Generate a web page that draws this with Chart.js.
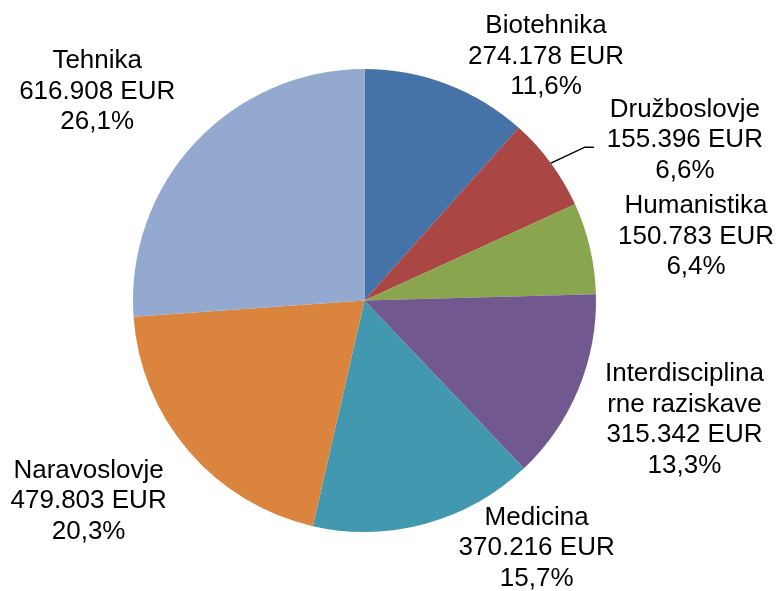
<!DOCTYPE html>
<html>
<head>
<meta charset="utf-8">
<script src="https://cdn.jsdelivr.net/npm/chart.js@4/dist/chart.umd.min.js"></script>
<style>
  html, body { margin: 0; padding: 0; background: #ffffff; }
  #wrap { width: 779px; height: 591px; position: relative; }
</style>
</head>
<body>
<div id="wrap"><canvas id="c" width="779" height="591"></canvas></div>
<script>
// ---- data ----
const categories = ["Biotehnika", "Družboslovje", "Humanistika", "Interdisciplinarne raziskave", "Medicina", "Naravoslovje", "Tehnika"];
const amountsEUR = [274178, 155396, 150783, 315342, 370216, 479803, 616908];
const currency = "EUR";

// ---- style ----
const sliceColors = ["#4572A7", "#AA4643", "#89A54E", "#71588F", "#4198AF", "#DB843D", "#93A9CF"];
// label centre offsets from the slice's outer mid-point (px)
const labelOffsets = [[99, -30], [134, -25], [106, -14], [106, 29], [111, 22], [-100, 48], [-98, -53]];
// leader line (relative to slice outer mid-point), only for Družboslovje
const leaders = { 1: [[0, 0], [34, -16], [43, -16]] };
const FONT_SIZE = 26;
const LINE_H = 30.5;
const FONT = FONT_SIZE + "px 'Liberation Sans', Arial, sans-serif";
const WRAP_W = 165;

function fmtThousands(v) {
  return String(v).replace(/\B(?=(\d{3})+(?!\d))/g, ".");
}
function wrapText(ctx, text, maxW) {
  const lines = [];
  let cur = "";
  for (const ch of text) {
    const test = cur + ch;
    if (ctx.measureText(test).width > maxW && cur.length) {
      lines.push(cur.trim());
      cur = ch;
    } else cur = test;
  }
  if (cur.trim().length) lines.push(cur.trim());
  return lines;
}

const total = amountsEUR.reduce((a, b) => a + b, 0);

const labelPlugin = {
  id: "sliceLabels",
  afterDatasetsDraw(chart) {
    const ctx = chart.ctx;
    const meta = chart.getDatasetMeta(0);
    ctx.save();
    ctx.font = FONT;
    ctx.fillStyle = "#000000";
    ctx.textAlign = "center";
    ctx.textBaseline = "alphabetic";
    meta.data.forEach((arc, i) => {
      const p = arc.getProps(["x", "y", "startAngle", "endAngle", "outerRadius"], true);
      const mid = (p.startAngle + p.endAngle) / 2;
      const ax = p.x + Math.cos(mid) * p.outerRadius;
      const ay = p.y + Math.sin(mid) * p.outerRadius;
      if (leaders[i]) {
        ctx.beginPath();
        ctx.strokeStyle = "#000000";
        ctx.lineWidth = 1.5;
        leaders[i].forEach((pt, k) => {
          if (k === 0) ctx.moveTo(ax + pt[0], ay + pt[1]);
          else ctx.lineTo(ax + pt[0], ay + pt[1]);
        });
        ctx.stroke();
      }
      const pct = (amountsEUR[i] / total * 100).toFixed(1).replace(".", ",") + "%";
      const lines = wrapText(ctx, categories[i], WRAP_W)
        .concat([fmtThousands(amountsEUR[i]) + " " + currency, pct]);
      const cx = ax + labelOffsets[i][0];
      const cy = ay + labelOffsets[i][1];
      const n = lines.length;
      lines.forEach((t, k) => {
        const by = cy + (k - (n - 1) / 2) * LINE_H + 0.358 * FONT_SIZE;
        ctx.fillText(t, cx, by);
      });
    });
    ctx.restore();
  }
};

new Chart(document.getElementById("c"), {
  type: "pie",
  data: {
    labels: categories,
    datasets: [{
      data: amountsEUR,
      backgroundColor: sliceColors,
      borderWidth: 0,
      hoverOffset: 0
    }]
  },
  options: {
    responsive: false,
    animation: false,
    events: [],
    layout: { padding: { left: 133, right: 183, top: 69, bottom: 59 } },
    plugins: {
      legend: { display: false },
      tooltip: { enabled: false }
    }
  },
  plugins: [labelPlugin]
});
</script>
</body>
</html>
